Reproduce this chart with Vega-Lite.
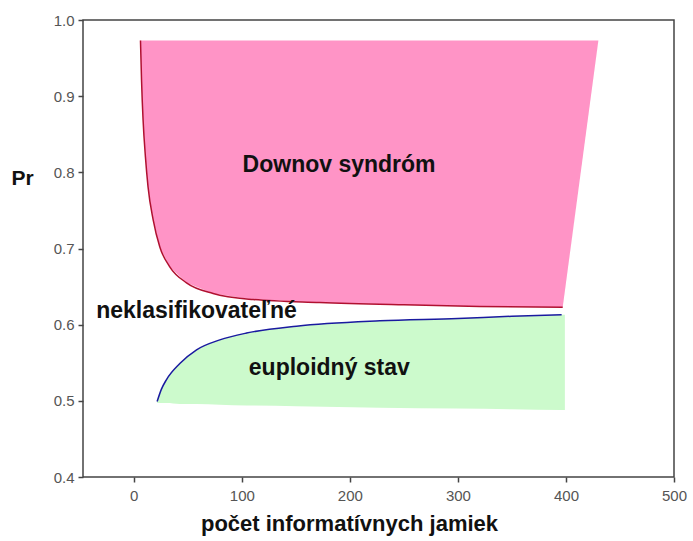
{
  "$schema": "https://vega.github.io/schema/vega-lite/v6.json",
  "width": 591,
  "height": 457,
  "autosize": {"type": "none"},
  "padding": {"left": 83, "top": 20, "right": 19, "bottom": 64},
  "background": "white",
  "config": {
    "view": {"stroke": "#444", "strokeWidth": 1.5},
    "font": "Liberation Sans"
  },
  "datasets": {
    "pink": [
      {"x": 6.2, "lo": 0.973, "hi": 0.973},
      {"x": 7.2, "lo": 0.92, "hi": 0.973},
      {"x": 8.6, "lo": 0.869, "hi": 0.973},
      {"x": 10.8, "lo": 0.82, "hi": 0.973},
      {"x": 13.2, "lo": 0.781, "hi": 0.973},
      {"x": 17.9, "lo": 0.738, "hi": 0.973},
      {"x": 24.1, "lo": 0.702, "hi": 0.973},
      {"x": 33.3, "lo": 0.676, "hi": 0.973},
      {"x": 48.8, "lo": 0.655, "hi": 0.973},
      {"x": 73.4, "lo": 0.641, "hi": 0.973},
      {"x": 110.5, "lo": 0.633, "hi": 0.973},
      {"x": 172, "lo": 0.629, "hi": 0.973},
      {"x": 250, "lo": 0.626, "hi": 0.973},
      {"x": 320, "lo": 0.624, "hi": 0.973},
      {"x": 397, "lo": 0.623, "hi": 0.973},
      {"x": 430, "lo": 0.973, "hi": 0.973}
    ],
    "green": [
      {"x": 21.6, "lo": 0.497, "hi": 0.499},
      {"x": 25.5, "lo": 0.497, "hi": 0.515},
      {"x": 30.3, "lo": 0.497, "hi": 0.528},
      {"x": 42.6, "lo": 0.496, "hi": 0.549},
      {"x": 58.1, "lo": 0.496, "hi": 0.567},
      {"x": 79.6, "lo": 0.495, "hi": 0.58},
      {"x": 104.4, "lo": 0.494, "hi": 0.589},
      {"x": 150.6, "lo": 0.493, "hi": 0.598},
      {"x": 227.8, "lo": 0.491, "hi": 0.605},
      {"x": 300, "lo": 0.49, "hi": 0.608},
      {"x": 350, "lo": 0.489, "hi": 0.611},
      {"x": 396, "lo": 0.488, "hi": 0.613},
      {"x": 399, "lo": 0.488, "hi": 0.613}
    ],
    "labels": [
      {"label": "Downov syndróm", "x": 190, "y": 0.81},
      {"label": "neklasifikovateľné", "x": 58, "y": 0.618},
      {"label": "euploidný stav", "x": 181, "y": 0.543}
    ]
  },
  "layer": [
    {
      "data": {"name": "pink"},
      "mark": {"type": "area", "color": "#FF94C6", "opacity": 1},
      "encoding": {
        "x": {
          "field": "x", "type": "quantitative",
          "scale": {"domain": [-47, 500], "nice": false, "zero": false},
          "axis": {
            "values": [0, 100, 200, 300, 400, 500],
            "title": "počet informatívnych jamiek",
            "titleX": 266, "titleAnchor": "middle", "titleAlign": "center",
            "titleFontSize": 22, "titleFontWeight": "bold", "titleColor": "#111",
            "titlePadding": 10,
            "labelFontSize": 15, "labelColor": "#555", "labelPadding": 6,
            "domain": false, "grid": false,
            "ticks": true, "tickSize": 5, "tickColor": "#444", "tickWidth": 1.5,
            "labelFlush": false
          }
        },
        "y": {
          "field": "lo", "type": "quantitative",
          "scale": {"domain": [0.4, 1.0], "nice": false, "zero": false},
          "axis": {
            "values": [0.4, 0.5, 0.6, 0.7, 0.8, 0.9, 1.0],
            "format": ".1f",
            "title": "Pr",
            "titleAngle": 0, "titleX": -61, "titleY": 158,
            "titleAlign": "center", "titleBaseline": "middle",
            "titleFontSize": 21, "titleFontWeight": "bold", "titleColor": "#111",
            "labelFontSize": 15, "labelColor": "#555", "labelPadding": 4,
            "domain": false, "grid": false,
            "ticks": true, "tickSize": 5, "tickColor": "#444", "tickWidth": 1.5,
            "labelFlush": false
          }
        },
        "y2": {"field": "hi"}
      }
    },
    {
      "data": {"name": "green"},
      "mark": {"type": "area", "color": "#CCFACC", "opacity": 1, "interpolate": "monotone"},
      "encoding": {
        "x": {"field": "x", "type": "quantitative"},
        "y": {"field": "lo", "type": "quantitative"},
        "y2": {"field": "hi"}
      }
    },
    {
      "data": {"name": "pink"},
      "transform": [{"filter": "datum.x <= 400"}],
      "mark": {"type": "line", "color": "#B01030", "strokeWidth": 1.5, "interpolate": "monotone"},
      "encoding": {
        "x": {"field": "x", "type": "quantitative"},
        "y": {"field": "lo", "type": "quantitative"}
      }
    },
    {
      "data": {"name": "green"},
      "transform": [{"filter": "datum.x <= 396"}],
      "mark": {"type": "line", "color": "#1A1AA0", "strokeWidth": 1.5, "interpolate": "monotone"},
      "encoding": {
        "x": {"field": "x", "type": "quantitative"},
        "y": {"field": "hi", "type": "quantitative"}
      }
    },
    {
      "data": {"name": "labels"},
      "mark": {"type": "text", "fontSize": 23, "fontWeight": "bold", "color": "#111", "align": "center", "baseline": "middle"},
      "encoding": {
        "x": {"field": "x", "type": "quantitative"},
        "y": {"field": "y", "type": "quantitative"},
        "text": {"field": "label"}
      }
    }
  ]
}
